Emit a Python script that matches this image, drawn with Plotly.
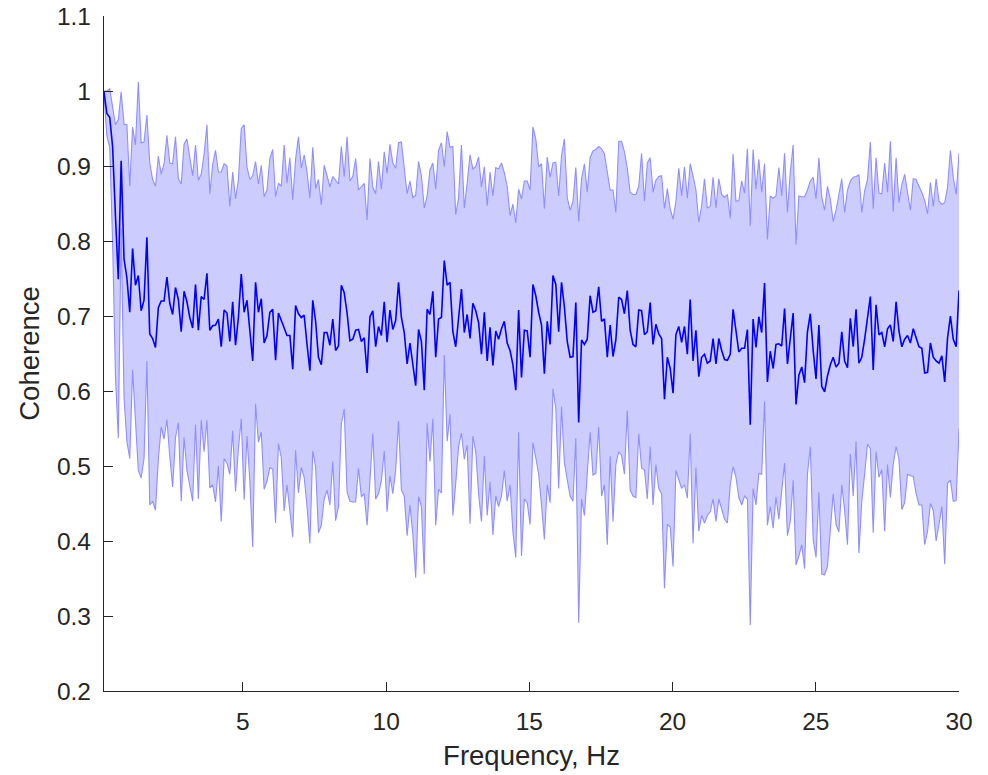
import numpy as np
import plotly.graph_objects as go

# ---- data ----
coh_mean = [
    0.999, 0.970, 0.965, 0.926, 0.834, 0.749, 0.907, 0.776, 0.751, 0.705, 0.790, 0.741, 0.754, 0.707, 0.721, 0.805, 0.676, 0.670, 0.658, 0.711,
    0.720, 0.720, 0.752, 0.717, 0.702, 0.738, 0.722, 0.679, 0.733, 0.719, 0.698, 0.684, 0.742, 0.681, 0.726, 0.722, 0.757, 0.681,
    0.687, 0.688, 0.696, 0.659, 0.708, 0.704, 0.666, 0.719, 0.661, 0.698, 0.756, 0.705, 0.721, 0.679, 0.640, 0.745, 0.705, 0.723, 0.664, 0.674,
    0.705, 0.709, 0.641, 0.704, 0.693, 0.683, 0.674, 0.674, 0.629, 0.714, 0.703, 0.698, 0.701, 0.662, 0.627, 0.721, 0.693,
    0.645, 0.635, 0.678, 0.678, 0.661, 0.696, 0.654, 0.660, 0.741, 0.731, 0.704, 0.667, 0.669, 0.681, 0.682, 0.666, 0.671, 0.624, 0.699, 0.707,
    0.659, 0.686, 0.674, 0.719, 0.665, 0.708, 0.682, 0.694, 0.745, 0.698, 0.678, 0.636, 0.664, 0.636, 0.607, 0.682, 0.666,
    0.601, 0.709, 0.702, 0.733, 0.645, 0.696, 0.698, 0.774, 0.741, 0.745, 0.679, 0.659, 0.697, 0.736, 0.678, 0.702, 0.670, 0.717, 0.707, 0.691,
    0.649, 0.705, 0.640, 0.685, 0.634, 0.680, 0.669, 0.683, 0.693, 0.664, 0.654, 0.635, 0.601, 0.708, 0.618, 0.681, 0.680,
    0.645, 0.742, 0.727, 0.705, 0.688, 0.623, 0.693, 0.662, 0.754, 0.742, 0.679, 0.745, 0.712, 0.666, 0.645, 0.646, 0.718, 0.558, 0.668, 0.662,
    0.669, 0.727, 0.705, 0.707, 0.739, 0.693, 0.696, 0.645, 0.688, 0.646, 0.668, 0.725, 0.722, 0.703, 0.734, 0.681,
    0.662, 0.659, 0.708, 0.707, 0.675, 0.679, 0.718, 0.662, 0.689, 0.676, 0.670, 0.589, 0.645, 0.630, 0.597, 0.675, 0.686, 0.665, 0.686, 0.649,
    0.722, 0.640, 0.681, 0.619, 0.645, 0.649, 0.637, 0.640, 0.670, 0.636, 0.670, 0.654, 0.642, 0.641, 0.649, 0.709, 0.679,
    0.652, 0.657, 0.657, 0.682, 0.555, 0.696, 0.658, 0.699, 0.678, 0.744, 0.612, 0.653, 0.630, 0.662, 0.663, 0.660, 0.710, 0.636, 0.670, 0.704,
    0.582, 0.621, 0.632, 0.611, 0.679, 0.703, 0.654, 0.616, 0.688, 0.606, 0.599, 0.620, 0.635, 0.645, 0.632, 0.637, 0.679,
    0.640, 0.631, 0.697, 0.659, 0.709, 0.637, 0.645, 0.669, 0.698, 0.726, 0.628, 0.715, 0.675, 0.678, 0.659, 0.683, 0.688, 0.666, 0.719, 0.680,
    0.659, 0.669, 0.674, 0.664, 0.683, 0.670, 0.659, 0.657, 0.624, 0.625, 0.664, 0.645, 0.640, 0.637, 0.647, 0.612, 0.671, 0.700, 0.669, 0.659,
    0.734,
]

coh_upper = [
    1.000, 1.000, 1.003, 0.979, 0.955, 0.962, 0.999, 0.956, 0.955, 0.873, 0.952, 0.928, 1.012, 0.931, 0.932, 0.968, 0.904, 0.882, 0.873, 0.913,
    0.889, 0.903, 0.941, 0.904, 0.903, 0.939, 0.883, 0.876, 0.929, 0.936, 0.909, 0.887, 0.928, 0.881, 0.889, 0.916, 0.955, 0.863,
    0.902, 0.921, 0.892, 0.892, 0.903, 0.900, 0.846, 0.892, 0.856, 0.882, 0.950, 0.955, 0.899, 0.882, 0.887, 0.906, 0.876, 0.901, 0.859, 0.868,
    0.910, 0.922, 0.859, 0.877, 0.873, 0.928, 0.877, 0.911, 0.855, 0.909, 0.939, 0.897, 0.915, 0.892, 0.857, 0.925, 0.870,
    0.882, 0.848, 0.901, 0.887, 0.872, 0.886, 0.881, 0.876, 0.926, 0.886, 0.939, 0.880, 0.886, 0.910, 0.868, 0.872, 0.877, 0.828, 0.910, 0.872,
    0.863, 0.906, 0.869, 0.919, 0.890, 0.929, 0.904, 0.897, 0.931, 0.932, 0.898, 0.863, 0.880, 0.858, 0.861, 0.906, 0.887,
    0.844, 0.860, 0.895, 0.904, 0.869, 0.921, 0.931, 0.899, 0.946, 0.925, 0.926, 0.835, 0.858, 0.928, 0.844, 0.877, 0.915, 0.896, 0.899, 0.912,
    0.872, 0.899, 0.847, 0.892, 0.860, 0.898, 0.896, 0.904, 0.891, 0.873, 0.834, 0.849, 0.824, 0.869, 0.856, 0.880, 0.880,
    0.868, 0.952, 0.936, 0.899, 0.903, 0.843, 0.912, 0.885, 0.904, 0.905, 0.860, 0.914, 0.936, 0.858, 0.841, 0.853, 0.898, 0.826, 0.883, 0.903,
    0.865, 0.911, 0.920, 0.922, 0.926, 0.923, 0.916, 0.893, 0.868, 0.868, 0.838, 0.933, 0.933, 0.919, 0.897, 0.865,
    0.862, 0.862, 0.873, 0.917, 0.853, 0.904, 0.911, 0.865, 0.881, 0.886, 0.887, 0.843, 0.870, 0.843, 0.829, 0.853, 0.897, 0.860, 0.899, 0.857,
    0.903, 0.887, 0.868, 0.825, 0.847, 0.883, 0.844, 0.846, 0.885, 0.844, 0.883, 0.862, 0.858, 0.862, 0.830, 0.916, 0.853,
    0.854, 0.880, 0.864, 0.923, 0.820, 0.922, 0.869, 0.909, 0.865, 0.903, 0.802, 0.860, 0.857, 0.860, 0.898, 0.860, 0.917, 0.838, 0.892, 0.928,
    0.795, 0.860, 0.859, 0.859, 0.868, 0.880, 0.885, 0.856, 0.911, 0.859, 0.841, 0.873, 0.856, 0.826, 0.841, 0.863, 0.883,
    0.838, 0.868, 0.880, 0.885, 0.886, 0.888, 0.838, 0.867, 0.882, 0.932, 0.843, 0.911, 0.864, 0.863, 0.904, 0.865, 0.933, 0.839, 0.911, 0.851,
    0.875, 0.889, 0.865, 0.841, 0.883, 0.882, 0.873, 0.865, 0.854, 0.836, 0.878, 0.846, 0.883, 0.853, 0.849, 0.851, 0.872, 0.921, 0.885, 0.862,
    0.917,
]

coh_lower = [
    0.995, 0.940, 0.925, 0.800, 0.620, 0.537, 0.817, 0.591, 0.533, 0.510, 0.628, 0.552, 0.494, 0.484, 0.510, 0.640, 0.448, 0.453, 0.441, 0.509,
    0.552, 0.536, 0.562, 0.513, 0.472, 0.538, 0.558, 0.453, 0.538, 0.494, 0.475, 0.453, 0.555, 0.456, 0.561, 0.519, 0.561, 0.471,
    0.475, 0.452, 0.500, 0.426, 0.510, 0.504, 0.489, 0.547, 0.466, 0.523, 0.563, 0.455, 0.540, 0.480, 0.392, 0.583, 0.532, 0.545, 0.469, 0.480,
    0.498, 0.496, 0.424, 0.530, 0.511, 0.440, 0.475, 0.443, 0.405, 0.521, 0.464, 0.498, 0.485, 0.446, 0.397, 0.520, 0.499,
    0.411, 0.421, 0.456, 0.468, 0.448, 0.506, 0.427, 0.446, 0.556, 0.576, 0.465, 0.453, 0.452, 0.452, 0.497, 0.459, 0.463, 0.421, 0.480, 0.543,
    0.456, 0.463, 0.480, 0.520, 0.439, 0.487, 0.463, 0.494, 0.560, 0.468, 0.460, 0.407, 0.448, 0.409, 0.351, 0.459, 0.446,
    0.356, 0.557, 0.506, 0.563, 0.421, 0.469, 0.464, 0.648, 0.533, 0.569, 0.434, 0.477, 0.526, 0.544, 0.509, 0.528, 0.423, 0.540, 0.519, 0.463,
    0.426, 0.513, 0.434, 0.479, 0.408, 0.460, 0.446, 0.460, 0.494, 0.453, 0.475, 0.412, 0.378, 0.545, 0.380, 0.456, 0.451,
    0.422, 0.531, 0.511, 0.489, 0.448, 0.402, 0.475, 0.451, 0.603, 0.577, 0.470, 0.579, 0.504, 0.480, 0.460, 0.453, 0.537, 0.291, 0.456, 0.434,
    0.497, 0.545, 0.488, 0.490, 0.552, 0.460, 0.475, 0.395, 0.513, 0.426, 0.502, 0.519, 0.514, 0.489, 0.574, 0.468,
    0.460, 0.458, 0.543, 0.497, 0.495, 0.456, 0.526, 0.448, 0.502, 0.470, 0.463, 0.337, 0.422, 0.419, 0.366, 0.494, 0.482, 0.470, 0.475, 0.457,
    0.543, 0.397, 0.498, 0.413, 0.434, 0.424, 0.434, 0.439, 0.456, 0.426, 0.456, 0.441, 0.429, 0.424, 0.475, 0.499, 0.485,
    0.458, 0.448, 0.460, 0.456, 0.288, 0.470, 0.448, 0.490, 0.489, 0.586, 0.421, 0.446, 0.417, 0.459, 0.429, 0.463, 0.504, 0.407, 0.426, 0.481,
    0.368, 0.380, 0.395, 0.363, 0.489, 0.526, 0.402, 0.378, 0.465, 0.356, 0.355, 0.366, 0.419, 0.463, 0.422, 0.412, 0.475,
    0.441, 0.395, 0.516, 0.460, 0.533, 0.384, 0.453, 0.489, 0.529, 0.523, 0.411, 0.519, 0.485, 0.495, 0.413, 0.502, 0.458, 0.502, 0.526, 0.509,
    0.442, 0.451, 0.489, 0.487, 0.486, 0.463, 0.448, 0.448, 0.395, 0.413, 0.450, 0.441, 0.400, 0.422, 0.446, 0.369, 0.477, 0.481, 0.453, 0.454,
    0.550,
]

f_start, f_stop = 0.15, 30.0
freq = np.linspace(f_start, f_stop, len(coh_mean))

x_tick_vals = [5, 10, 15, 20, 25, 30]
x_tick_text = ["5", "10", "15", "20", "25", "30"]
y_tick_vals = [0.2, 0.3, 0.4, 0.5, 0.6, 0.7, 0.8, 0.9, 1.0, 1.1]
y_tick_text = ["0.2", "0.3", "0.4", "0.5", "0.6", "0.7", "0.8", "0.9", "1", "1.1"]

# ---- styles ----
FONT = "Liberation Sans, Arial, Helvetica, sans-serif"
AX = "#262626"
FILL = "rgb(204,204,255)"
EDGE = "rgb(143,143,255)"
MEANC = "rgb(0,0,255)"

fig = go.Figure()
fig.add_trace(go.Scatter(x=freq, y=coh_lower, mode="lines",
                         line=dict(color=EDGE, width=1.1), showlegend=False, hoverinfo="skip"))
fig.add_trace(go.Scatter(x=freq, y=coh_upper, mode="lines", fill="tonexty", fillcolor=FILL,
                         line=dict(color=EDGE, width=1.1), showlegend=False, hoverinfo="skip"))
fig.add_trace(go.Scatter(x=freq, y=coh_mean, mode="lines",
                         line=dict(color=MEANC, width=1.6), showlegend=False))

axis_common = dict(showline=True, linecolor=AX, linewidth=1.3, ticks="inside", ticklen=9,
                   tickwidth=1.3, tickcolor=AX, showgrid=False, zeroline=False, mirror=False,
                   automargin=False, tickfont=dict(family=FONT, size=24.5, color=AX))

fig.update_layout(
    width=988, height=775,
    margin=dict(l=104, r=29, t=16, b=84),
    paper_bgcolor="white", plot_bgcolor="white",
    font=dict(family=FONT, color=AX),
    xaxis=dict(range=[f_start, f_stop], tickmode="array", tickvals=x_tick_vals, ticktext=x_tick_text,
               title=dict(text="Frequency, Hz", font=dict(family=FONT, size=27.5, color=AX), standoff=12),
               ticklabelstandoff=8, **axis_common),
    yaxis=dict(range=[0.2, 1.1], tickmode="array", tickvals=y_tick_vals, ticktext=y_tick_text,
               title=dict(text="Coherence", font=dict(family=FONT, size=27.5, color=AX), standoff=9),
               ticklabelstandoff=7, **axis_common),
)

fig.write_html("out.html")
